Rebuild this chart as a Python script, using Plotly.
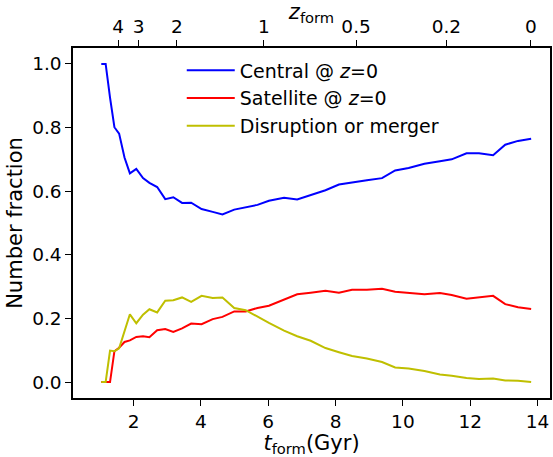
import numpy as np
import plotly.graph_objects as go

# formation time bins (Gyr)
t_form = [1.04, 1.17, 1.30, 1.43, 1.57, 1.73, 1.89, 2.08, 2.28, 2.47, 2.70, 2.94,
          3.18, 3.44, 3.71, 4.02, 4.35, 4.64, 4.99, 5.33, 5.68, 6.02, 6.47, 6.86,
          7.26, 7.70, 8.10, 8.49, 8.93, 9.38, 9.77, 10.17, 10.64, 11.10, 11.45,
          11.89, 12.26, 12.68, 13.04, 13.42, 13.81]

central = [1.000, 1.000, 0.894, 0.801, 0.781, 0.706, 0.656, 0.670, 0.641, 0.626,
           0.613, 0.575, 0.581, 0.563, 0.564, 0.544, 0.535, 0.527, 0.542, 0.549,
           0.557, 0.570, 0.579, 0.574, 0.587, 0.603, 0.621, 0.626, 0.634, 0.641,
           0.665, 0.673, 0.686, 0.694, 0.700, 0.719, 0.719, 0.713, 0.746, 0.758,
           0.765]

satellite = [0.000, 0.000, 0.000, 0.097, 0.108, 0.126, 0.131, 0.142, 0.144, 0.141,
             0.163, 0.167, 0.158, 0.169, 0.184, 0.182, 0.198, 0.205, 0.222, 0.222,
             0.233, 0.240, 0.259, 0.276, 0.281, 0.287, 0.281, 0.290, 0.290, 0.293,
             0.284, 0.280, 0.276, 0.280, 0.274, 0.262, 0.266, 0.271, 0.245, 0.235,
             0.230]

disrupted = [0.000, 0.000, 0.099, 0.097, 0.106, 0.161, 0.213, 0.185, 0.212, 0.229,
             0.219, 0.256, 0.257, 0.266, 0.252, 0.271, 0.264, 0.266, 0.233, 0.226,
             0.205, 0.186, 0.162, 0.144, 0.130, 0.107, 0.094, 0.082, 0.074, 0.063,
             0.046, 0.043, 0.035, 0.024, 0.020, 0.013, 0.010, 0.011, 0.005, 0.004,
             0.000]

series_names = ["Central @ <i>z</i>=0", "Satellite @ <i>z</i>=0", "Disruption or merger"]
series_colors = ["#0000ff", "#ff0000", "#bfbf00"]

y_ticks = [0.0, 0.2, 0.4, 0.6, 0.8, 1.0]
x_ticks = [2, 4, 6, 8, 10, 12, 14]
z_ticks = [4, 3, 2, 1, 0.5, 0.2, 0]
z_ticklabels = ["4", "3", "2", "1", "0.5", "0.2", "0"]

# flat LCDM (Planck 2015) cosmic time for top-axis tick positions
H0, Om = 67.74, 0.3089
OL = 1 - Om
hubble_time = 977.8 / H0
def cosmic_time(z):
    return (2.0 * hubble_time / (3.0 * np.sqrt(OL))) * np.arcsinh(np.sqrt(OL / Om) * (1 + z) ** -1.5)

z_tick_pos = [float(cosmic_time(z)) for z in z_ticks]

FONT = "DejaVu Sans"
x_range = [0.2, 14.37]

fig = go.Figure()
for vals, name, col in zip([central, satellite, disrupted], series_names, series_colors):
    fig.add_trace(go.Scatter(x=t_form, y=vals, mode="lines", name=name,
                             line=dict(color=col, width=2)))

# invisible trace for top axis
fig.add_trace(go.Scatter(x=[z_tick_pos[0]], y=[0], xaxis="x2", mode="markers",
                         marker=dict(opacity=0), showlegend=False, hoverinfo="skip"))

axis_common = dict(showline=True, linecolor="black", linewidth=1.5, ticks="outside",
                   ticklen=6, tickwidth=1.2, tickcolor="black", showgrid=False,
                   zeroline=False, tickfont=dict(family=FONT, size=18.5, color="black"))

fig.update_layout(
    width=553, height=457,
    margin=dict(l=73, r=1, t=47, b=58.5),
    paper_bgcolor="white", plot_bgcolor="white",
    font=dict(family=FONT, color="black"),
    xaxis=dict(range=x_range, tickvals=x_ticks, mirror=False,
               title=dict(text="<i>t</i><sub>form</sub>(Gyr)", font=dict(family=FONT, size=21), standoff=2),
               **axis_common),
    xaxis2=dict(range=x_range, overlaying="x", side="top", tickvals=z_tick_pos,
                ticktext=z_ticklabels,
                title=dict(text="<i>z</i><sub>form</sub>", font=dict(family=FONT, size=21), standoff=0),
                **axis_common),
    yaxis=dict(range=[-0.05, 1.05], tickvals=y_ticks, ticktext=["%.1f" % v for v in y_ticks],
               mirror=True,
               title=dict(text="Number fraction", font=dict(family=FONT, size=21), standoff=4),
               **axis_common),
    legend=dict(x=0.228, y=0.99, xanchor="left", yanchor="top", bgcolor="rgba(0,0,0,0)",
                font=dict(family=FONT, size=19, color="black"), itemwidth=48),
    showlegend=True,
)

fig.write_html("out.html")
